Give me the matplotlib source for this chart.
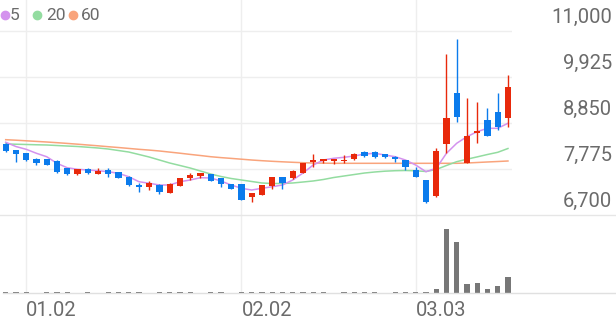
import numpy as np
import matplotlib
matplotlib.use('Agg')
import matplotlib.pyplot as plt
from matplotlib.lines import Line2D
from matplotlib.transforms import blended_transform_factory, offset_copy

plt.rcParams['font.family'] = ['Roboto', 'DejaVu Sans']

# daily candles (KRW)
opens = [8360, 8220, 8140, 8010, 8010, 7970, 7790, 7650, 7780, 7660,
         7750, 7700, 7595, 7410, 7350, 7410, 7220, 7385, 7555, 7615,
         7650, 7555, 7425, 7425, 7128, 7167, 7385, 7580, 7555, 7690,
         7930, 7970, 7970, 7965, 8000, 8180, 8180, 8120, 8065, 7985,
         7750, 7520, 7144, 8359, 9558, 7922, 8623, 8920, 9114, 8960]
closes = [8200, 8125, 7985, 7920, 7870, 7710, 7650, 7770, 7690, 7735,
          7650, 7570, 7400, 7350, 7440, 7230, 7425, 7560, 7635, 7675,
          7495, 7425, 7305, 7050, 7207, 7400, 7580, 7440, 7728, 7910,
          7985, 8000, 7995, 7995, 8125, 8080, 8045, 8065, 8000, 7815,
          7595, 6995, 8203, 8960, 8983, 8546, 8670, 8546, 8764, 9700]
highs = [8380, 8225, 8160, 8030, 8015, 7975, 7795, 7775, 7800, 7790,
         7790, 7705, 7600, 7440, 7500, 7415, 7440, 7565, 7675, 7690,
         7660, 7560, 7430, 7430, 7215, 7405, 7585, 7590, 7760, 7915,
         8120, 8000, 7995, 8100, 8140, 8185, 8185, 8125, 8070, 7990,
         7830, 7525, 8258, 10455, 10806, 9427, 9348, 9193, 9558, 9972]
lows = [8170, 7945, 7960, 7880, 7860, 7690, 7635, 7645, 7665, 7655,
        7595, 7565, 7375, 7245, 7285, 7190, 7215, 7380, 7520, 7570,
        7485, 7360, 7300, 7045, 7010, 7160, 7300, 7300, 7530, 7685,
        7830, 7910, 7885, 7910, 7995, 8045, 8040, 8025, 7930, 7750,
        7590, 6970, 7130, 8140, 8880, 7910, 8390, 8540, 8686, 8764]

ma5 = [8400, 8300, 8235, 8142, 8062, 7908, 7805, 7768, 7752, 7735,
       7712, 7674, 7595, 7478, 7441, 7401, 7401, 7478, 7518, 7572,
       7565, 7494, 7401, 7324, 7284, 7324, 7361, 7401, 7518, 7680,
       7868, 7985, 8025, 8048, 8079, 8125, 8142, 8102, 8062, 7985,
       7868, 7712, 7791, 8142, 8376, 8530, 8647, 8726, 8726, 8843]
ma20 = [8359, 8354, 8348, 8341, 8336, 8324, 8312, 8301, 8284, 8266,
        8242, 8207, 8172, 8114, 8055, 7985, 7915, 7857, 7798, 7728,
        7658, 7600, 7553, 7518, 7483, 7448, 7436, 7436, 7448, 7471,
        7495, 7530, 7576, 7611, 7646, 7681, 7705, 7724, 7735, 7740,
        7733, 7717, 7763, 7857, 7946, 8004, 8058, 8114, 8165, 8254]
ma60 = [8460, 8448, 8434, 8420, 8406, 8390, 8373, 8355, 8336, 8317,
        8296, 8277, 8256, 8235, 8217, 8196, 8170, 8144, 8116, 8090,
        8062, 8041, 8023, 8004, 7985, 7969, 7955, 7943, 7932, 7922,
        7915, 7911, 7908, 7908, 7908, 7908, 7908, 7908, 7908, 7908,
        7908, 7908, 7908, 7908, 7908, 7915, 7927, 7939, 7950, 7962]

# volume, million shares
volume = [0.05, 0.06, 0.05, 0.04, 0.05, 0.06, 0.05, 0.04, 0.05, 0.04,
          0.05, 0.05, 0.06, 0.05, 0.04, 0.05, 0.05, 0.06, 0.05, 0.04,
          0.05, 0.05, 0.04, 0.06, 0.05, 0.05, 0.06, 0.05, 0.05, 0.06,
          0.07, 0.05, 0.04, 0.05, 0.06, 0.05, 0.05, 0.04, 0.05, 0.06,
          0.08, 0.12, 0.37, 5.70, 4.55, 0.77, 0.94, 0.34, 0.67, 1.40]

tick_idx = [2, 23, 40]
tick_labels = ['01.02', '02.02', '03.03']
price_ticks = [11000, 9925, 8850, 7775, 6700]

up_color = '#e8290b'
down_color = '#0b7bec'
grid_color = '#eeeeee'
text_color = '#6b6b6b'

W, H = 616, 321
fig = plt.figure(figsize=(W / 100, H / 100), dpi=100)

# px helpers for layout
def fx(px):
    return px / W

def fy(py):
    return 1 - py / H

n = len(closes)
x = np.arange(n)
step = 10.25
x0 = 5.7
xlim = (-x0 / step, (512 - x0) / step)

ax = fig.add_axes([0, fy(215), fx(512), 215 / H])
axv = fig.add_axes([0, fy(293), fx(512), (293 - 216) / H])

px_per_won = 184 / 4300
ax.set_xlim(*xlim)
ax.set_ylim(6700, 11000 + 31 / px_per_won)

# grid
for p in price_ticks[:-1]:
    ax.axhline(p, color=grid_color, lw=1, zorder=0)
for t in tick_idx:
    ax.axvline(t, color=grid_color, lw=1, zorder=0)
    axv.axvline(t, color=grid_color, lw=1, zorder=0)

# moving averages
ax.plot(x, ma60, color='#f9a47c', lw=1.1, zorder=2)
ax.plot(x, ma20, color='#93dca0', lw=1.1, zorder=2)
ax.plot(x, ma5, color='#d492ee', lw=1.1, zorder=2)

# candles
opens_a = np.array(opens)
closes_a = np.array(closes)
colors = [up_color if c >= o else down_color for o, c in zip(opens, closes)]
ax.vlines(x, lows, highs, colors=colors, lw=1, zorder=3)
body = closes_a - opens_a
body = np.where(np.abs(body) < 30, np.where(body >= 0, 30, -30), body)
ax.bar(x, body, bottom=opens_a, width=0.6, color=colors, zorder=4)

for a in (ax, axv):
    a.set_xticks([])
    a.set_yticks([])
    for s in a.spines.values():
        s.set_visible(False)
    a.patch.set_alpha(0)

# volume
axv.set_xlim(*xlim)
axv.set_ylim(0, 6.9)
axv.bar(x, volume, width=0.5, color='#777777', zorder=3)

# separators
fig.add_artist(Line2D([0, 1], [fy(215), fy(215)], color='#e6e6e6', lw=1))
fig.add_artist(Line2D([fx(3), 1], [fy(293), fy(293)], color='#e0e0e0', lw=1))

# price labels, above their grid lines
tr = offset_copy(blended_transform_factory(fig.transFigure, ax.transData), fig=fig, y=14, units='dots')
for p in price_ticks:
    ax.text(fx(612), p, f'{p:,}', transform=tr, ha='right', va='center',
            fontsize=14.5, color=text_color)

# date labels
trx = blended_transform_factory(axv.transData, fig.transFigure)
for t, lab in zip(tick_idx, tick_labels):
    axv.text(t, fy(310), lab, transform=trx, ha='left', va='center',
             fontsize=14.5, color=text_color)

# legend
legend = [('5', '#d492ee', 5, 10), ('20', '#93dca0', 37, 46), ('60', '#f9a47c', 72.5, 81)]
for lab, c, dx, tx in legend:
    fig.add_artist(Line2D([fx(dx)], [fy(15)], marker='o', ms=6, color=c, lw=0))
    fig.text(fx(tx), fy(15), lab, ha='left', va='center', fontsize=12.5, color=text_color)

fig.savefig('out.png', dpi=100)
